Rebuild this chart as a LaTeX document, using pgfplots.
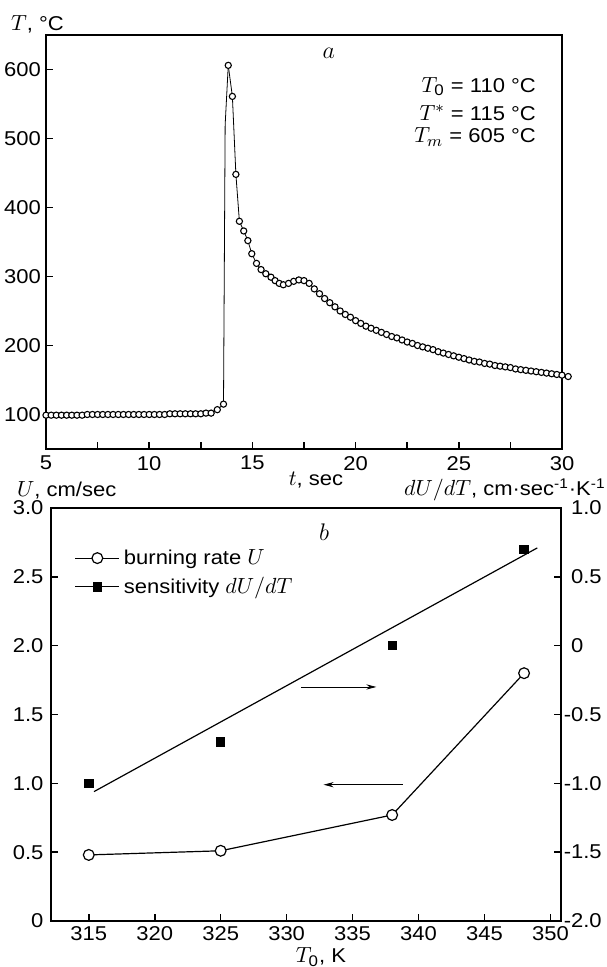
\documentclass[border=0pt]{standalone}
\usepackage{fontspec}
\setmainfont{Liberation Sans}[FakeStretch=1.1]
\usepackage{amsmath}
\usepackage{pgfplots}
\pgfplotsset{compat=1.18}
\usetikzlibrary{arrows.meta}

\pgfplotstableread{
t T
5.00 99
5.25 99
5.50 99
5.75 99
6.00 99
6.25 99
6.50 99
6.75 99
7.00 100
7.25 100
7.50 100
7.75 100
8.00 100
8.25 100
8.50 100
8.75 100
9.00 100
9.25 100
9.50 100
9.75 100
10.00 100
10.25 100
10.50 100
10.75 100
11.00 101
11.25 101
11.50 101
11.75 101
12.00 101
12.25 101
12.50 101
12.75 102
13.00 102
13.30 107
13.60 115
}\riseA

\pgfplotstableread{
t T
13.83 606
14.03 561
14.20 448
14.37 380
14.58 366
14.78 352
14.97 333
15.20 319
15.42 310
15.65 304
15.90 299
16.10 294
16.30 290
16.50 288
16.75 290
17.00 293
17.25 295
17.50 294
17.75 290
18.00 282
18.25 275
18.50 268
18.75 262
19.00 256
19.25 250
19.50 245
19.75 241
20.00 236
20.25 232
20.50 228
20.75 225
21.00 222
21.25 219
21.50 216
21.75 213
22.00 211
22.25 208
22.50 205
22.75 203
23.00 200
23.25 198
23.50 196
23.75 194
24.00 191
24.25 189
24.50 187
24.75 185
25.00 183
25.25 181
25.50 179
25.75 177
26.00 176
26.25 174
26.50 173
26.75 171
27.00 170
27.25 169
27.50 168
27.75 166
28.00 165
28.25 164
28.50 163
28.75 162
29.00 161
29.25 160
29.50 159
29.75 158
30.00 157
30.30 155
}\decayB

\begin{document}
\fontsize{10}{12}\selectfont
\begin{tikzpicture}
\useasboundingbox (0,0) rectangle (303pt,483.5pt);
\pgfplotsset{
  common/.style={
    scale only axis, anchor=south west,
    tick align=inside,
    major tick length=3.5pt, minor tick length=3.5pt,
    tick style={line width=0.8pt, black},
    axis line style={line width=1pt},
    /pgf/number format/assume math mode=true,
    ticklabel style={font=\fontsize{10}{12}\selectfont},
  }
}
% ---------- panel a ----------
\begin{axis}[common,
  at={(23pt,259pt)}, width=258pt, height=207pt,
  xmin=5, xmax=30, ymin=50, ymax=650,
  xtick={5,10,...,30}, minor xtick={7.5,12.5,...,27.5},
  ytick={100,200,...,600},
  xtick pos=bottom, ytick pos=left,
  yticklabel style={xshift=1pt},
  clip=false,
]
\addplot[black, line width=0.4pt, mark=*, mark size=1.55pt, mark options={fill=white, line width=0.55pt}] table {\riseA};
\addplot[black, line width=0.4pt] coordinates {(13.60,115) (13.68,520) (13.83,606)};
\addplot[black, line width=0.4pt, mark=*, mark size=1.55pt, mark options={fill=white, line width=0.55pt}] table {\decayB};
\node[font=\fontsize{13}{15}\selectfont] at (axis cs:18.7,624) {$a$};
\node[anchor=east, inner sep=0pt] at (axis cs:28.75,575) {\fontsize{11}{13}\selectfont$T_{\text{0}}$\fontsize{10}{12}\selectfont{} = 110 °C};
\node[anchor=east, inner sep=0pt] at (axis cs:28.75,537) {\fontsize{11}{13}\selectfont$T^{*}$\fontsize{10}{12}\selectfont{} = 115 °C};
\node[anchor=east, inner sep=0pt] at (axis cs:28.75,502) {\fontsize{11}{13}\selectfont$T_{m}$\fontsize{10}{12}\selectfont{} = 605 °C};
\end{axis}
% ---------- panel b, left axis ----------
\begin{axis}[common,
  at={(25.25pt,23pt)}, width=255.25pt, height=206.5pt,
  xmin=312.1, xmax=350.8, ymin=0, ymax=3,
  xtick={315,320,...,350},
  ytick={0,0.5,1,1.5,2,2.5,3},
  yticklabels={0,0.5,1.0,1.5,2.0,2.5,3.0},
  xtick pos=bottom, ytick pos=left,
  xticklabel style={yshift=1pt},
  legend style={draw=none, fill=none, at={(0.035,0.843)}, anchor=west,
    font=\fontsize{10}{12}\selectfont, row sep=1pt},
  legend cell align=left,
  legend image code/.code={\draw[mark repeat=2,mark phase=2,#1] plot coordinates {(0pt,0pt)(11pt,0pt)(22pt,0pt)};},
]
\addplot[black, line width=0.6pt, mark=*, mark size=2.7pt, mark options={fill=white}] coordinates {(315,0.48) (325,0.51) (338,0.77) (348,1.80)};
\addlegendentry{burning rate \fontsize{11}{13}\selectfont$U$}
\addlegendimage{draw=none, mark=square*, mark size=2.1pt, mark options={draw=black, fill=black}}
\addlegendentry{sensitivity \fontsize{11}{13}\selectfont$dU/dT$}
\draw[-{Stealth[length=5pt,width=2.6pt]}, line width=0.4pt] (axis cs:331.1,1.70) -- (axis cs:336.8,1.70);
\draw[-{Stealth[length=5pt,width=2.6pt]}, line width=0.4pt] (axis cs:338.8,0.99) -- (axis cs:332.8,0.99);
\node[font=\fontsize{13}{15}\selectfont] at (axis cs:332.85,2.825) {$b$};
\end{axis}
% ---------- panel b, right axis ----------
\begin{axis}[common,
  at={(25.25pt,23pt)}, width=255.25pt, height=206.5pt,
  xmin=312.1, xmax=350.8, ymin=-2, ymax=1,
  axis x line=none, axis y line*=right,
  ytick={-2,-1.5,-1,-0.5,0,0.5,1},
  yticklabels={\llap{-}2.0,\llap{-}1.5,\llap{-}1.0,\llap{-}0.5,0,0.5,1.0},
  yticklabel style={anchor=west, xshift=1.5pt},
]
\addplot[black, only marks, mark=square*, mark size=2.1pt] coordinates {(315,-1.0) (325,-0.7) (338,0.0) (348,0.7)};
\addplot[black, line width=0.6pt, no marks] coordinates {(315.4,-1.06) (349.0,0.71)};
\end{axis}
% ---------- axis labels ----------
\node[anchor=west] at (2pt,471.5pt) {\fontsize{11}{13}\selectfont$T$\fontsize{10}{12}\selectfont, °C};
\node at (158pt,243.5pt) {\fontsize{11}{13}\selectfont$t$\fontsize{10}{12}\selectfont, sec};
\node[anchor=west] at (5pt,238.5pt) {\fontsize{11}{13}\selectfont$U$\fontsize{10}{12}\selectfont, cm/sec};
\node[anchor=east, inner sep=0pt] at (303pt,238.5pt) {\fontsize{11}{13}\selectfont$dU/dT$\fontsize{10}{12}\selectfont, cm·sec\textsuperscript{-1}·K\textsuperscript{-1}};
\node at (160.5pt,5pt) {\fontsize{11}{13}\selectfont$T_{\text{0}}$\fontsize{10}{12}\selectfont, K};
\end{tikzpicture}
\end{document}
